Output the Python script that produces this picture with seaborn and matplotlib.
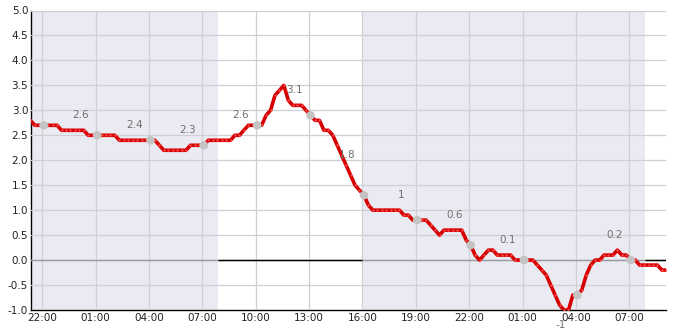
import numpy as np
import pandas as pd
import matplotlib
matplotlib.use("Agg")
import matplotlib.pyplot as plt
import matplotlib.dates as mdates
from matplotlib.ticker import MultipleLocator
import seaborn as sns

# ---- data ----
start_time = "2024-03-01 21:20"
values = [
    2.8, 2.7, 2.7, 2.7, 2.7, 2.7, 2.7, 2.6, 2.6, 2.6, 2.6, 2.6,
    2.6, 2.5, 2.5, 2.5, 2.5, 2.5, 2.5, 2.5, 2.4, 2.4, 2.4, 2.4,
    2.4, 2.4, 2.4, 2.4, 2.4, 2.3, 2.2, 2.2, 2.2, 2.2, 2.2, 2.2,
    2.3, 2.3, 2.3, 2.3, 2.4, 2.4, 2.4, 2.4, 2.4, 2.4, 2.5, 2.5,
    2.6, 2.7, 2.7, 2.7, 2.7, 2.9, 3.0, 3.3, 3.4, 3.5, 3.2, 3.1,
    3.1, 3.1, 3.0, 2.9, 2.8, 2.8, 2.6, 2.6, 2.5, 2.3, 2.1, 1.9,
    1.7, 1.5, 1.4, 1.3, 1.1, 1.0, 1.0, 1.0, 1.0, 1.0, 1.0, 1.0,
    0.9, 0.9, 0.8, 0.8, 0.8, 0.8, 0.7, 0.6, 0.5, 0.6, 0.6, 0.6,
    0.6, 0.6, 0.4, 0.3, 0.1, 0.0, 0.1, 0.2, 0.2, 0.1, 0.1, 0.1,
    0.1, 0.0, 0.0, 0.0, 0.0, 0.0, -0.1, -0.2, -0.3, -0.5, -0.7, -0.9,
    -1.0, -1.0, -0.7, -0.7, -0.6, -0.3, -0.1, 0.0, 0.0, 0.1, 0.1, 0.1,
    0.2, 0.1, 0.1, 0.0, 0.0, -0.1, -0.1, -0.1, -0.1, -0.1, -0.2, -0.2,
]
times = pd.date_range(start_time, periods=len(values), freq="15min")
df = pd.DataFrame({"time": times, "value": values})

# grey markers every 3 hours
marker_times = pd.to_datetime([
    "2024-03-01 22:05", "2024-03-02 01:05", "2024-03-02 04:05", "2024-03-02 07:05",
    "2024-03-02 10:05", "2024-03-02 13:05", "2024-03-02 16:05", "2024-03-02 19:05",
    "2024-03-02 22:05", "2024-03-03 01:05", "2024-03-03 04:05", "2024-03-03 07:05",
])
marker_df = df[df["time"].isin(marker_times)]

# labels
label_times = pd.to_datetime([
    "2024-03-02 00:10", "2024-03-02 03:10", "2024-03-02 06:10", "2024-03-02 09:10",
    "2024-03-02 12:10", "2024-03-02 15:10", "2024-03-02 18:10", "2024-03-02 21:10",
    "2024-03-03 00:10", "2024-03-03 03:10", "2024-03-03 06:10",
])
label_values = [2.6, 2.4, 2.3, 2.6, 3.1, 1.8, 1, 0.6, 0.1, -1, 0.2]
label_texts = ["2.6", "2.4", "2.3", "2.6", "3.1", "1.8", "1", "0.6", "0.1", "-1", "0.2"]

# night shading
night_spans = [
    ("2024-03-01 21:00", "2024-03-02 07:52"),
    ("2024-03-02 16:00", "2024-03-03 07:53"),
]

x_start = pd.Timestamp("2024-03-01 21:22")
x_end = pd.Timestamp("2024-03-03 09:04")

# ---- plot ----
sns.set_style("white")
plt.rcParams["font.family"] = ["DejaVu Sans"]

fig = plt.figure(figsize=(6.85, 3.3), dpi=100)
ax = fig.add_axes([31 / 685, 20 / 330, 635 / 685, 299.5 / 330])

for s, e in night_spans:
    ax.axvspan(pd.Timestamp(s), pd.Timestamp(e), color="#eaeaf2", lw=0, zorder=1)

# zero line: grey inside shaded spans, black in the daylight gaps
ax.axhline(0, color="#9a9a9e", lw=1.0, zorder=2.6)
day_gaps = [(pd.Timestamp(night_spans[0][1]), pd.Timestamp(night_spans[1][0])),
            (pd.Timestamp(night_spans[1][1]), x_end)]
for s, e in day_gaps:
    ax.hlines(0, s, e, color="black", lw=1.0, zorder=2.7)

sns.lineplot(data=df, x="time", y="value", ax=ax, color="#d60000", lw=2.6,
             marker="o", markersize=1.6, markeredgewidth=0, markerfacecolor="#ff5050",
             zorder=3)
sns.scatterplot(data=marker_df, x="time", y="value", ax=ax, color="#c4c4c4", s=38,
                edgecolor="none", zorder=4)

for t, v, txt in zip(label_times, label_values, label_texts):
    off = 0.3 if v >= 0 else -0.3
    ax.text(t, v + off, txt, ha="center", va="center", fontsize=7.5,
            color="#707070", clip_on=False, zorder=5)

ax.set_xlim(x_start, x_end)
ax.set_ylim(-1.0, 5.0)
ax.yaxis.set_major_locator(MultipleLocator(0.5))
ax.yaxis.set_minor_locator(MultipleLocator(0.1))
ax.yaxis.set_major_formatter(matplotlib.ticker.FormatStrFormatter("%.1f"))
ax.xaxis.set_major_locator(mdates.HourLocator(byhour=[1, 4, 7, 10, 13, 16, 19, 22]))
ax.xaxis.set_major_formatter(mdates.DateFormatter("%H:%M"))

ax.set_axisbelow(False)
ax.grid(True, which="major", color="#cfcfd4", lw=0.9, zorder=2.5)
ax.set_xlabel("")
ax.set_ylabel("")

for side in ["top", "right"]:
    ax.spines[side].set_visible(False)
for side in ["left", "bottom"]:
    ax.spines[side].set_color("black")
    ax.spines[side].set_linewidth(1.0)

ax.tick_params(axis="both", which="major", direction="in", length=4, width=0.9,
               color="black", labelsize=7.5, labelcolor="#222222", pad=2)
ax.tick_params(axis="y", which="minor", direction="in", length=2.5, width=0.7, color="black")
ax.tick_params(axis="x", which="minor", length=0)

fig.savefig("out.png", dpi=100)
